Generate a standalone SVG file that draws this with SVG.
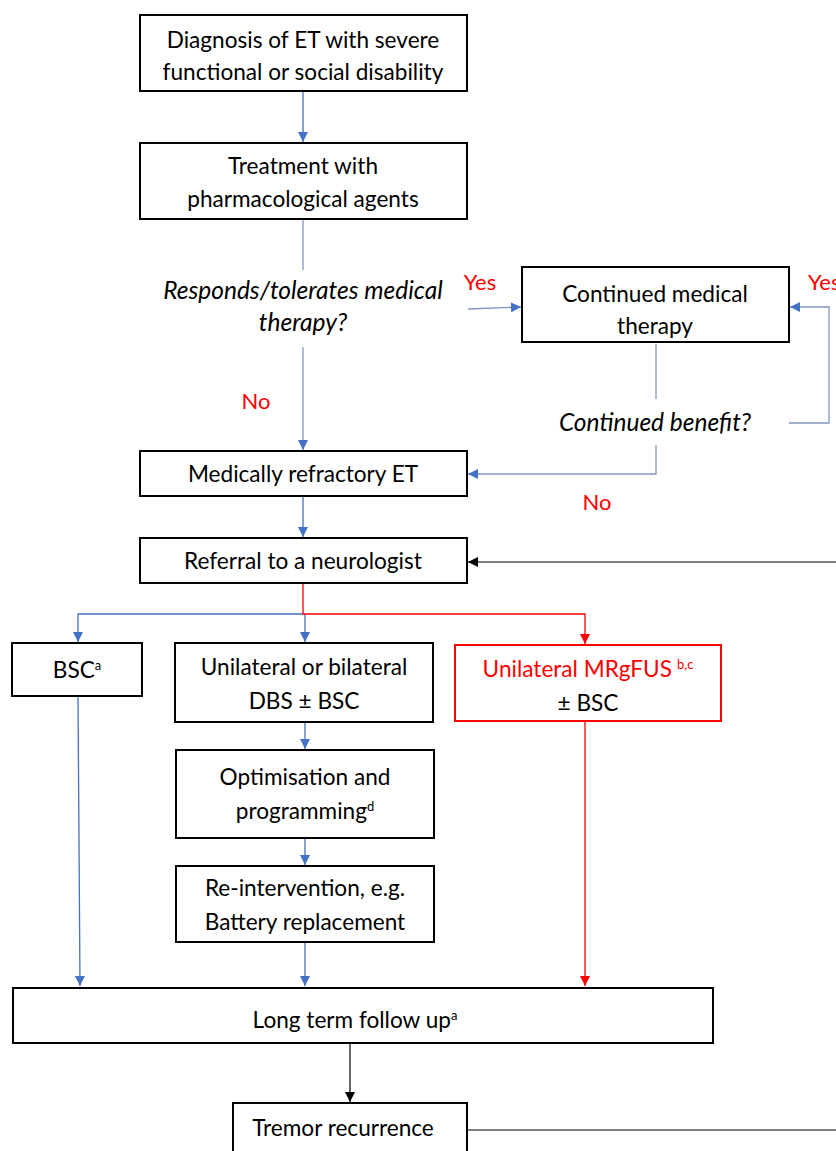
<svg xmlns="http://www.w3.org/2000/svg" width="836" height="1151" viewBox="0 0 836 1151">
<style>
.box{fill:#fff;stroke:#000;stroke-width:2}
.rbox{fill:#fff;stroke:#FF0000;stroke-width:2}
.t{font-family:Lato,"Liberation Sans",sans-serif;font-size:22.6px;fill:#000;text-anchor:middle}
.i{font-style:italic;font-size:24.5px}
.red{fill:#FF0000}
.lab{font-size:22px}
.sup{font-size:13px}
.cb{fill:none;stroke:#4472C4;stroke-width:1.3}
.cg{fill:none;stroke:#8096C0;stroke-width:1.3}
.cr{fill:none;stroke:#FF0000;stroke-width:1.3}
.ck{fill:none;stroke:#000;stroke-width:1.2}
</style>
<defs>
<marker id="ab" markerWidth="10" markerHeight="10" refX="10" refY="5" orient="auto" markerUnits="userSpaceOnUse"><path d="M0,0 L10,5 L0,10 Z" fill="#4472C4"/></marker>
<marker id="ar" markerWidth="10" markerHeight="10" refX="10" refY="5" orient="auto" markerUnits="userSpaceOnUse"><path d="M0,0 L10,5 L0,10 Z" fill="#FF0000"/></marker>
<marker id="ak" markerWidth="10" markerHeight="10" refX="10" refY="5" orient="auto" markerUnits="userSpaceOnUse"><path d="M0,0 L10,5 L0,10 Z" fill="#000"/></marker>
</defs>
<rect width="836" height="1151" fill="#fff"/>
<g id="connectors">
<line class="cb" x1="303" y1="92" x2="303" y2="142" marker-end="url(#ab)"/>
<line class="cg" x1="303" y1="220" x2="303" y2="270"/>
<line class="cg" x1="303" y1="347" x2="303" y2="450" marker-end="url(#ab)"/>
<line class="cg" x1="468" y1="309" x2="521" y2="307" marker-end="url(#ab)"/>
<line class="cg" x1="656" y1="344" x2="656" y2="399"/>
<polyline class="cg" points="789,423 829,423 829,307 790,307" marker-end="url(#ab)"/>
<polyline class="cg" points="656,445 656,474 468,474" marker-end="url(#ab)"/>
<line class="cb" x1="303" y1="497" x2="303" y2="537" marker-end="url(#ab)"/>
<line class="ck" x1="836" y1="562" x2="468" y2="562" marker-end="url(#ak)"/>
<polyline class="cb" points="303,614 78,614 78,642" marker-end="url(#ab)"/>
<line class="cb" x1="305" y1="614" x2="305" y2="642" marker-end="url(#ab)"/>
<polyline class="cr" points="303,584 303,614 585,614 585,644" marker-end="url(#ar)"/>
<line class="cb" x1="305" y1="723" x2="305" y2="749" marker-end="url(#ab)"/>
<line class="cb" x1="305" y1="839" x2="305" y2="865" marker-end="url(#ab)"/>
<line class="cb" x1="78" y1="697" x2="80" y2="986" marker-end="url(#ab)"/>
<line class="cb" x1="305" y1="943" x2="305" y2="986" marker-end="url(#ab)"/>
<line class="cr" x1="585" y1="722" x2="585" y2="986" marker-end="url(#ar)"/>
<line class="ck" x1="350" y1="1044" x2="350" y2="1102" marker-end="url(#ak)"/>
<line class="ck" x1="468" y1="1130" x2="836" y2="1130"/>
</g>
<g id="n-diagnosis">
<rect class="box" x="140" y="15" width="327" height="76"/>
<text class="t" x="303" y="48">Diagnosis of ET with severe</text>
<text class="t" x="303" y="80">functional or social disability</text>
</g>
<g id="n-treatment">
<rect class="box" x="140" y="143" width="327" height="76"/>
<text class="t" x="303" y="174">Treatment with</text>
<text class="t" x="303" y="207">pharmacological agents</text>
</g>
<g id="q-responds">
<text class="t i" x="303" y="299">Responds/tolerates medical</text>
<text class="t i" x="303" y="331">therapy?</text>
<text class="t red lab" x="480" y="290">Yes</text>
<text class="t red lab" x="256" y="409">No</text>
</g>
<g id="n-continued">
<rect class="box" x="522" y="267" width="267" height="75"/>
<text class="t" x="655" y="302">Continued medical</text>
<text class="t" x="655" y="334">therapy</text>
</g>
<g id="q-benefit">
<text class="t i" x="655" y="431">Continued benefit?</text>
<text class="t red lab" x="808" y="290" style="text-anchor:start">Yes</text>
<text class="t red lab" x="597" y="510">No</text>
</g>
<g id="n-refractory">
<rect class="box" x="140" y="451" width="327" height="45"/>
<text class="t" x="303" y="482">Medically refractory ET</text>
</g>
<g id="n-referral">
<rect class="box" x="140" y="538" width="327" height="45"/>
<text class="t" x="303" y="569">Referral to a neurologist</text>
</g>
<g id="n-bsc">
<rect class="box" x="12" y="643" width="130" height="53"/>
<text class="t" x="77" y="678">BSC<tspan class="sup" dy="-8">a</tspan></text>
</g>
<g id="n-dbs">
<rect class="box" x="175" y="643" width="258" height="79"/>
<text class="t" x="304" y="675">Unilateral or bilateral</text>
<text class="t" x="304" y="709">DBS ± BSC</text>
</g>
<g id="n-mrgfus">
<rect class="rbox" x="455" y="645" width="266" height="76"/>
<text class="t red" x="588" y="677">Unilateral MRgFUS<tspan class="sup" dx="5" dy="-8">b,c</tspan></text>
<text class="t" x="588" y="711">± BSC</text>
</g>
<g id="n-optimisation">
<rect class="box" x="176" y="750" width="258" height="88"/>
<text class="t" x="305" y="785">Optimisation and</text>
<text class="t" x="305" y="819">programming<tspan class="sup" dy="-8">d</tspan></text>
</g>
<g id="n-reintervention">
<rect class="box" x="176" y="866" width="258" height="76"/>
<text class="t" x="305" y="896">Re-intervention, e.g.</text>
<text class="t" x="305" y="930">Battery replacement</text>
</g>
<g id="n-followup">
<rect class="box" x="13" y="988" width="700" height="55"/>
<text class="t" x="355" y="1028">Long term follow up<tspan class="sup" dy="-8">a</tspan></text>
</g>
<g id="n-tremor">
<rect class="box" x="233" y="1103" width="234" height="60"/>
<text class="t" x="343" y="1136">Tremor recurrence</text>
</g>
</svg>
